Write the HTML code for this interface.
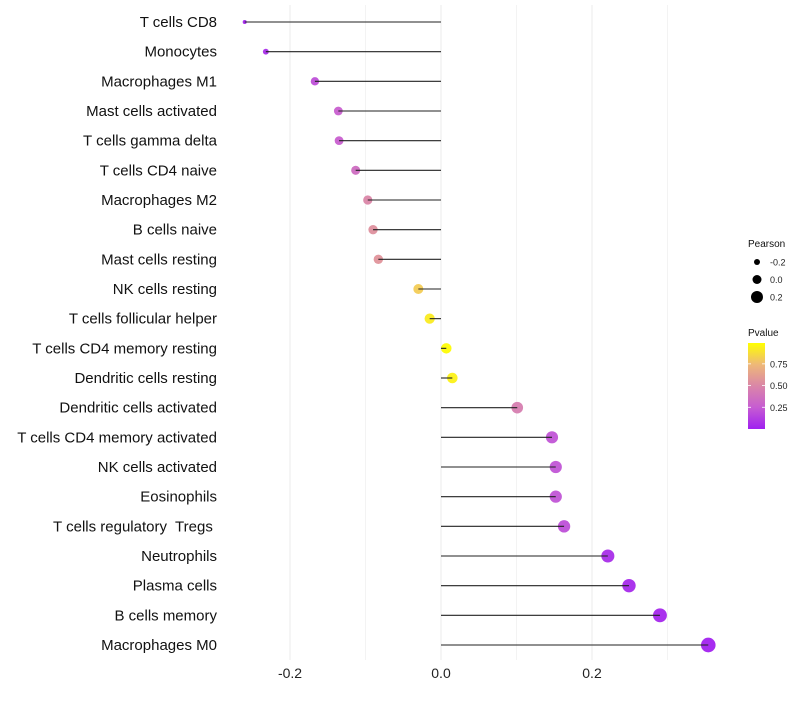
<!DOCTYPE html>
<html><head><meta charset="utf-8"><style>
body{margin:0;background:#fff;font-family:"Liberation Sans",sans-serif}
.cat{white-space:pre}
</style></head><body>
<svg id="chart" width="800" height="700" xmlns="http://www.w3.org/2000/svg">
<defs><linearGradient id="pg" x1="0" y1="1" x2="0" y2="0">
<stop offset="0" stop-color="#A020F0"/><stop offset="0.25" stop-color="#C65CD2"/><stop offset="0.5" stop-color="#DA86A8"/><stop offset="0.75" stop-color="#EEB878"/><stop offset="1" stop-color="#FFFF00"/></linearGradient></defs>
<g id="grid"></g><g id="dots"></g><g id="marks"></g><g id="labels"></g><g id="legend"></g>
</svg>
<script>
const categories=["T cells CD8","Monocytes","Macrophages M1","Mast cells activated","T cells gamma delta","T cells CD4 naive","Macrophages M2","B cells naive","Mast cells resting","NK cells resting","T cells follicular helper","T cells CD4 memory resting","Dendritic cells resting","Dendritic cells activated","T cells CD4 memory activated","NK cells activated","Eosinophils","T cells regulatory  Tregs ","Neutrophils","Plasma cells","B cells memory","Macrophages M0"];
const pearson=[-0.260,-0.232,-0.167,-0.136,-0.135,-0.113,-0.097,-0.090,-0.083,-0.030,-0.015,0.007,0.015,0.101,0.147,0.152,0.152,0.163,0.221,0.249,0.290,0.354];
const pvalue=[0.02,0.06,0.2,0.27,0.27,0.35,0.5,0.55,0.57,0.82,0.93,0.99,0.95,0.45,0.22,0.22,0.22,0.2,0.06,0.04,0.03,0.01];
const xTicks=[-0.2,0,0.2];
const xTickLabels=["-0.2","0.0","0.2"];
const minorTicks=[-0.1,0.1,0.3];
const legendVals=[-0.2,0,0.2];
const legendLabels=["-0.2","0.0","0.2"];
const NS="http://www.w3.org/2000/svg";
const X=v=>441+v*755;
const Y=i=>22+i*(623/21);
const R=v=>v>-0.2?5.2+6*v:Math.max(1.8,4+(v+0.2)*33);
function lerp(a,b,t){return a.map((x,i)=>Math.round(x+(b[i]-x)*t));}
const stops=[[160,32,240],[198,92,210],[218,134,168],[238,184,120],[255,255,0]];
function col(p){p=Math.max(0,Math.min(1,p));const s=p*4,i=Math.min(3,Math.floor(s));const c=lerp(stops[i],stops[i+1],s-i);return `rgb(${c})`;}
function mk(t,a,parent){const e=document.createElementNS(NS,t);for(const k in a)e.setAttribute(k,a[k]);document.getElementById(parent).appendChild(e);return e;}
minorTicks.concat(xTicks).forEach(v=>{const l=mk('line',{x1:X(v),x2:X(v),y1:5,y2:660,stroke:'#ebebeb','stroke-width':xTicks.includes(v)?1:0.6},'grid');

});
xTicks.forEach((v,i)=>{const t=mk('text',{x:X(v),y:678,'text-anchor':'middle','font-size':14,fill:'#222'},'labels');t.textContent=xTickLabels[i];

});
categories.forEach((c,i)=>{
const y=Y(i);
const t=mk('text',{x:217,y:y+5,'text-anchor':'end','font-size':15,fill:'#111',class:'cat'},'labels');t.textContent=c;


const d=mk('circle',{cx:X(pearson[i]),cy:y,r:R(pearson[i]),fill:col(pvalue[i]),'fill-opacity':0.95},'dots');


const l=mk('line',{x1:X(0),x2:X(pearson[i]),y1:y,y2:y,stroke:'#222','stroke-width':1.1},'marks');


});
let tt=mk('text',{x:748,y:247,'font-size':10,fill:'#111'},'legend');tt.textContent='Pearson';


legendVals.forEach((v,i)=>{const y=262+i*17.5;
const c=mk('circle',{cx:757,cy:y,r:[3,4.5,6][i],fill:'#000'},'legend');


const t=mk('text',{x:770,y:y+3.5,'font-size':9,fill:'#222'},'legend');t.textContent=legendLabels[i];

});
tt=mk('text',{x:748,y:336,'font-size':10,fill:'#111'},'legend');tt.textContent='Pvalue';


const bar=mk('rect',{x:748,y:343,width:17,height:86,fill:'url(#pg)'},'legend');


[0.25,0.5,0.75].forEach(p=>{const y=429-p*86/0.99;
mk('line',{x1:748,x2:751,y1:y,y2:y,stroke:'#fff','stroke-width':0.8},'legend');
mk('line',{x1:762,x2:765,y1:y,y2:y,stroke:'#fff','stroke-width':0.8},'legend');
const t=mk('text',{x:770,y:y+3.5,'font-size':9,fill:'#222'},'legend');t.textContent=p.toFixed(2);

});
</script>
</body></html>
